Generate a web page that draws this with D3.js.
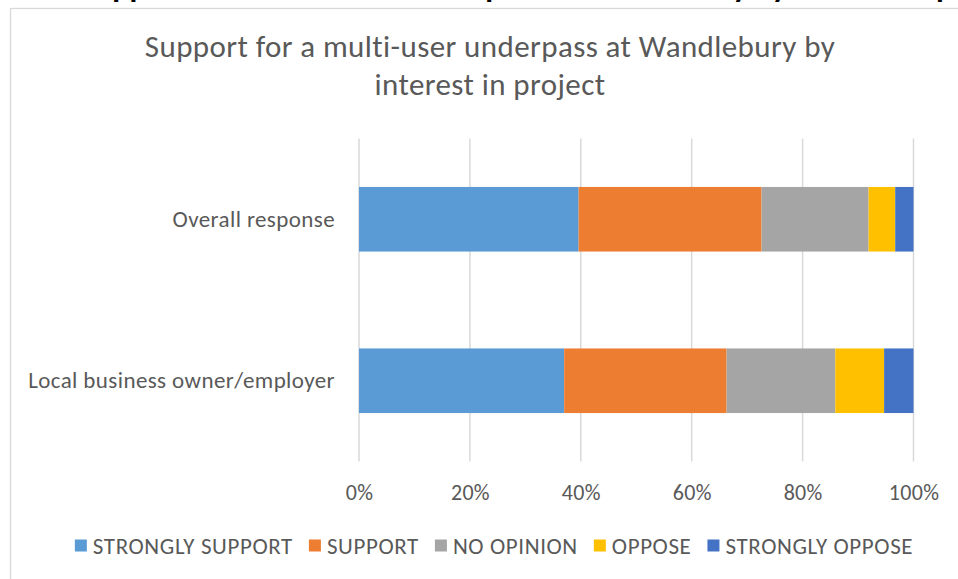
<!DOCTYPE html>
<html>
<head>
<meta charset="utf-8">
<script src="https://cdn.jsdelivr.net/npm/d3@7"></script>
<style>
  html, body { margin: 0; padding: 0; background: #fff; }
  svg { display: block; }
  text { font-family: Carlito, Calibri, Lato, "Open Sans", sans-serif; }
</style>
</head>
<body>
<svg id="chart" width="958" height="579"></svg>
<script>
// Survey responses, percent of respondents in each group
const categories = ["Overall response", "Local business owner/employer"];
const seriesNames = ["STRONGLY SUPPORT", "SUPPORT", "NO OPINION", "OPPOSE", "STRONGLY OPPOSE"];
const seriesColors = ["#5B9BD5", "#ED7D31", "#A5A5A5", "#FFC000", "#4472C4"];
const overallValues = [39.6, 33.0, 19.3, 4.8, 3.3];
const businessValues = [37.0, 29.3, 19.6, 8.8, 5.3];
const tickValues = [0, 20, 40, 60, 80, 100];
const titleLines = ["Support for a multi-user underpass at Wandlebury by", "interest in project"];
const headingText = "Support for a multi-user underpass at Wandlebury by interest in project";

const rows = categories.map((c, i) => {
  const vals = i === 0 ? overallValues : businessValues;
  const row = { category: c };
  seriesNames.forEach((s, j) => row[s] = vals[j]);
  return row;
});

const svg = d3.select("#chart");

// Page heading above the chart frame (runs off the top of the page)
svg.append("text")
  .attr("x", 80).attr("y", -3)
  .attr("font-size", 32).attr("font-weight", "bold")
  .attr("fill", "#000")
  .text(headingText);

// Chart frame
svg.append("rect")
  .attr("x", 10.5).attr("y", 8.5)
  .attr("width", 1000).attr("height", 700)
  .attr("fill", "#fff").attr("stroke", "#d9d9d9").attr("stroke-width", 1.3);

// Title
const title = svg.append("text")
  .attr("text-anchor", "middle")
  .attr("fill", "#595959")
  .attr("font-size", 31)
  .attr("letter-spacing", 0.4);
titleLines.forEach((t, i) => {
  title.append("tspan").attr("x", 490).attr("y", 57 + i * 38).text(t);
});

const x = d3.scaleLinear().domain([0, 100]).range([359, 913.5]);
const y = d3.scaleBand().domain(categories).range([138.5, 461.5])
  .paddingInner(0.6).paddingOuter(0.3);

// Vertical gridlines
svg.append("g")
  .selectAll("line").data(tickValues).join("line")
  .attr("x1", d => x(d)).attr("x2", d => x(d))
  .attr("y1", 138.5).attr("y2", 461.5)
  .attr("stroke", "#d9d9d9").attr("stroke-width", 1.5);

// Stacked bars
const stack = d3.stack().keys(seriesNames)(rows);
svg.append("g")
  .selectAll("g").data(stack).join("g")
  .attr("fill", (d, i) => seriesColors[i])
  .selectAll("rect").data(d => d).join("rect")
  .attr("x", d => x(d[0]))
  .attr("width", d => x(d[1]) - x(d[0]))
  .attr("y", d => y(d.data.category))
  .attr("height", y.bandwidth());

// X axis labels
const xAxis = svg.append("g")
  .attr("transform", "translate(0,461.5)")
  .call(d3.axisBottom(x).tickValues(tickValues).tickFormat(d => d + "%").tickSize(0).tickPadding(23));
xAxis.select(".domain").remove();
xAxis.selectAll("text")
  .attr("fill", "#595959").attr("font-size", 22).attr("letter-spacing", 0.3)
  .style("font-family", "Carlito, Calibri, Lato, sans-serif");

// Category labels
const yAxis = svg.append("g")
  .attr("transform", "translate(359,0)")
  .call(d3.axisLeft(y).tickSize(0).tickPadding(24));
yAxis.select(".domain").remove();
yAxis.selectAll("text")
  .attr("fill", "#595959").attr("font-size", 23).attr("letter-spacing", 0.4)
  .style("font-family", "Carlito, Calibri, Lato, sans-serif");

// Legend
const legend = svg.append("g").attr("transform", "translate(0,545.5)");
const items = legend.selectAll("g").data(seriesNames).join("g");
items.append("rect")
  .attr("width", 12).attr("height", 12).attr("y", -6)
  .attr("fill", (d, i) => seriesColors[i]);
items.append("text")
  .attr("x", 18).attr("dy", "0.35em")
  .attr("fill", "#595959").attr("font-size", 23).attr("letter-spacing", 0.6)
  .text(d => d);
let widths = [];
items.each(function () { widths.push(this.getBBox().width); });
const gap = 16;
const total = d3.sum(widths) + gap * (widths.length - 1);
let cx = 494 - total / 2;
items.attr("transform", (d, i) => {
  const t = `translate(${cx},0)`;
  cx += widths[i] + gap;
  return t;
});
</script>
</body>
</html>
